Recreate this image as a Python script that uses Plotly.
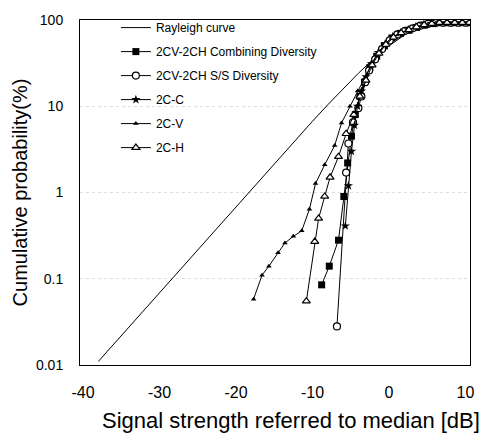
import plotly.graph_objects as go

# Rayleigh reference curve
ray_x = [-38, -34, -30, -26, -22, -18, -14, -10, -8, -6, -4, -2, 0, 2, 4, 6, 8, 10]
ray_y = [0.011, 0.0276, 0.069, 0.174, 0.437, 1.09, 2.72, 6.7, 10.4, 16.0, 24.1, 35.4, 50, 66.7, 82.5, 93.7, 98.7, 99.9]

# 2CV-2CH Combining Diversity
comb_x = [-8.8, -7.8, -6.6, -5.9, -5.4, -4.9, -4.4, -3.8, -3.2, -2.5, -1.6, -0.6, 0.4, 1.5, 2.6, 3.6, 4.6, 5.6, 6.6, 7.6, 8.6, 9.6, 10.5]
comb_y = [0.085, 0.14, 0.28, 0.9, 2.2, 4.5, 8, 13, 19, 28, 38, 50, 62, 70, 76, 82, 87, 91, 93, 93, 93, 93, 93]

# 2CV-2CH S/S Diversity
ss_x = [-6.8, -5.6, -5.3, -4.7, -4.0, -3.6, -3.1, -2.6, -1.8, -0.9, 0.1, 1.1, 2.1, 3.1, 4.1, 5.1, 6.1, 7.1, 8.1, 9.1, 10.1]
ss_y = [0.028, 1.7, 3.7, 6.5, 9.5, 13, 19, 26, 35, 46, 58, 68, 75, 80, 86, 90, 92, 93, 93, 93, 93]

# 2C-C
cc_x = [-5.7, -5.3, -4.9, -4.5, -4.1, -3.6, -3.0, -2.3, -1.4, -0.5, 0.5, 1.5, 2.5, 3.5, 4.5, 5.5, 6.5, 7.5, 8.5, 9.5, 10.5]
cc_y = [0.41, 1.2, 3, 6, 10, 15, 22, 31, 42, 53, 64, 71, 77, 83, 88, 91, 93, 93, 93, 93, 93]

# 2C-V
cv_x = [-17.7, -16.6, -15.7, -14.5, -13.6, -12.5, -11.4, -10.4, -9.6, -8.4, -7.1, -6.2, -5.1, -4.1, -3.2, -2.4, -1.5, -0.5, 0.5, 1.5, 2.5, 3.5, 4.5, 5.5, 6.5, 7.5, 8.5, 9.5, 10.5]
cv_y = [0.058, 0.11, 0.14, 0.2, 0.26, 0.31, 0.36, 0.64, 1.27, 2.1, 3.5, 6.4, 10, 15, 21, 29, 40, 51, 62, 70, 76, 82, 87, 91, 93, 93, 93, 93, 93]

# 2C-H
ch_x = [-10.8, -9.7, -9.2, -8.4, -7.7, -6.6, -5.6, -4.6, -3.8, -3.0, -2.2, -1.3, -0.4, 0.6, 1.6, 2.6, 3.6, 4.6, 5.6, 6.6, 7.6, 8.6, 9.6, 10.5]
ch_y = [0.055, 0.27, 0.5, 0.9, 1.5, 2.6, 4.8, 8, 13, 20, 30, 41, 52, 63, 71, 77, 83, 88, 91, 93, 93, 93, 93, 93]

x_ticks = [-40, -30, -20, -10, 0, 10]
x_tick_text = ["-40", "-30", "-20", "-10", "0", "10"]
y_ticks = [0.01, 0.1, 1, 10, 100]
y_tick_text = ["0.01", "0.1", "1", "10", "100"]

FONT = "Liberation Sans, Arial, sans-serif"
LINE = dict(color="black", width=1)

fig = go.Figure()
fig.add_trace(go.Scatter(x=ray_x, y=ray_y, mode="lines", name="Rayleigh curve",
                         line=LINE, legendgroup="a"))
fig.add_trace(go.Scatter(x=comb_x, y=comb_y, mode="lines+markers",
                         name="2CV-2CH Combining Diversity", line=LINE, legendgroup="b",
                         marker=dict(symbol="square", size=7, color="black")))
fig.add_trace(go.Scatter(x=ss_x, y=ss_y, mode="lines+markers",
                         name="2CV-2CH S/S Diversity", line=LINE, legendgroup="c",
                         marker=dict(symbol="circle", size=7, color="white",
                                     line=dict(color="black", width=1.2))))
fig.add_trace(go.Scatter(x=cc_x, y=cc_y, mode="lines+markers",
                         name="2C-C", line=LINE, legendgroup="d",
                         marker=dict(symbol="star", size=7, color="black")))
fig.add_trace(go.Scatter(x=cv_x, y=cv_y, mode="lines+markers",
                         name="2C-V", line=LINE, legendgroup="e",
                         marker=dict(symbol="triangle-up", size=5, color="black")))
fig.add_trace(go.Scatter(x=ch_x, y=ch_y, mode="lines+markers",
                         name="2C-H", line=LINE, legendgroup="f",
                         marker=dict(symbol="triangle-up", size=7, color="white",
                                     line=dict(color="black", width=1.2))))

fig.update_layout(
    width=486, height=440,
    margin=dict(l=80, r=13, t=13, b=75),
    paper_bgcolor="white", plot_bgcolor="white",
    font=dict(family=FONT, color="black"),
    showlegend=True,
    legend=dict(x=0.092, y=1.02, xanchor="left", yanchor="top",
                bgcolor="rgba(0,0,0,0)", font=dict(size=12, family=FONT),
                traceorder="grouped", tracegroupgap=5, itemwidth=30),
    xaxis=dict(range=[-40.4, 10.6], tickvals=x_ticks, ticktext=x_tick_text,
               showgrid=False, zeroline=False,
               showline=True, linecolor="black", linewidth=1, mirror=True,
               ticks="", ticklabelstandoff=13, tickfont=dict(size=16, family=FONT)),
    yaxis=dict(type="log", range=[-2, 2], tickvals=y_ticks, ticktext=y_tick_text,
               showgrid=True, gridcolor="#dddddd", griddash="dot", gridwidth=1,
               zeroline=False, showline=True, linecolor="black", linewidth=1, mirror=True,
               ticks="", ticklabelstandoff=13, tickfont=dict(size=14, family=FONT),
               title=dict(text="Cumulative probability(%)",
                          font=dict(size=20, family=FONT), standoff=2)),
    annotations=[dict(text="Signal strength referred to median [dB]", xref="paper", yref="paper",
                      x=0.54, y=-0.162, xanchor="center", yanchor="middle", showarrow=False,
                      font=dict(size=22, family=FONT))],
)

fig.write_html("out.html")
